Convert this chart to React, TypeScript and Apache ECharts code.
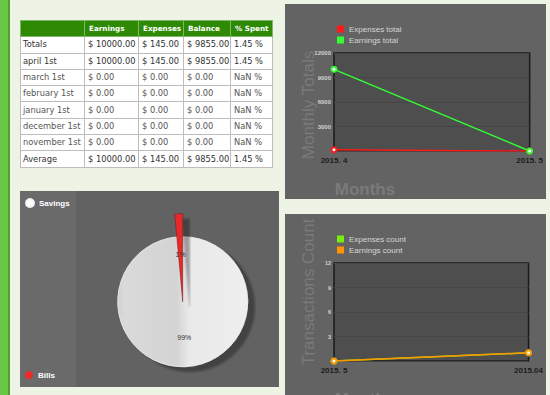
import React, { useEffect, useRef } from 'react';
import * as echarts from 'echarts';

// ---------- data ----------
const tableHeaders = ['', 'Earnings', 'Expenses', 'Balance', '% Spent'];
const tableRowNames = ['Totals', 'april 1st', 'march 1st', 'february 1st', 'january 1st', 'december 1st', 'november 1st', 'Average'];
const tableEarnings = ['$ 10000.00', '$ 10000.00', '$ 0.00', '$ 0.00', '$ 0.00', '$ 0.00', '$ 0.00', '$ 10000.00'];
const tableExpenses = ['$ 145.00', '$ 145.00', '$ 0.00', '$ 0.00', '$ 0.00', '$ 0.00', '$ 0.00', '$ 145.00'];
const tableBalance = ['$ 9855.00', '$ 9855.00', '$ 0.00', '$ 0.00', '$ 0.00', '$ 0.00', '$ 0.00', '$ 9855.00'];
const tableSpent = ['1.45 %', '1.45 %', 'NaN %', 'NaN %', 'NaN %', 'NaN %', 'NaN %', '1.45 %'];

const totalsMonths = ['2015. 4', '2015. 5'];
const expensesTotal = [145, 0];
const earningsTotal = [10000, 0];

const countMonths = ['2015. 5', '2015.04'];
const expensesCount = [0, 1];
const earningsCount = [0, 1];

const pieNames = ['Savings', 'Bills'];
const pieValues = [9855, 145];

// ---------- helpers ----------
function Chart({ option, style }: { option: any; style: React.CSSProperties }) {
  const ref = useRef<HTMLDivElement>(null);
  useEffect(() => {
    const c = echarts.init(ref.current!, null, { renderer: 'svg' });
    c.setOption(option);
    return () => c.dispose();
  }, []);
  return <div ref={ref} style={style} />;
}

const FONT = '"Liberation Sans", Arial, sans-serif';

function lineOption(
  cats: string[],
  series: { name: string; data: number[]; color: string }[],
  yMax: number,
  yInterval: number,
  yLabelSize: number,
  yTitle: string,
  yTitleY: number
) {
  return {
    animation: false,
    backgroundColor: '#636363',
    textStyle: { fontFamily: FONT },
    legend: {
      orient: 'vertical',
      left: 52,
      top: 21,
      padding: 0,
      itemWidth: 7,
      itemHeight: 7,
      itemGap: 3,
      icon: 'rect',
      textStyle: { color: '#d6d6d6', fontSize: 8, fontFamily: FONT },
      data: series.map((s) => ({ name: s.name, itemStyle: { color: s.color } })),
    },
    grid: {
      left: 49,
      right: 15,
      top: 49,
      height: 98,
      show: true,
      backgroundColor: '#4e4e4e',
      borderColor: '#1a1a1a',
      borderWidth: 1.5,
    },
    xAxis: {
      type: 'category',
      data: cats,
      boundaryGap: false,
      axisLine: { show: false },
      axisTick: { show: false },
      axisLabel: { color: '#1c1c1c', fontWeight: 'bold', fontSize: 8, margin: 5, fontFamily: FONT },
      splitLine: { show: false },
    },
    yAxis: {
      type: 'value',
      min: 0,
      max: yMax,
      interval: yInterval,
      axisLine: { show: false },
      axisTick: { show: false },
      axisLabel: {
        color: '#d2d2d2',
        fontWeight: 'bold',
        fontSize: yLabelSize,
        margin: 3,
        showMinLabel: false,
        fontFamily: FONT,
        formatter: (v: number) => String(v),
      },
      splitLine: { lineStyle: { color: '#464646', width: 1 } },
    },
    graphic: [
      {
        type: 'text',
        x: 23,
        y: yTitleY,
        rotation: Math.PI / 2,
        style: {
          text: yTitle,
          fill: '#7a7a7a',
          font: '17px "Liberation Sans", Arial, sans-serif',
          textAlign: 'center',
          textVerticalAlign: 'middle',
        },
      },
      {
        type: 'text',
        x: 80,
        y: 185,
        style: {
          text: 'Months',
          fill: '#7a7a7a',
          font: 'bold 17px "Liberation Sans", Arial, sans-serif',
          textAlign: 'center',
          textVerticalAlign: 'middle',
        },
      },
    ],
    series: series.map((s) => ({
      type: 'line',
      name: s.name,
      data: s.data,
      color: s.color,
      symbol: 'emptyCircle',
      symbolSize: 5,
      lineStyle: { width: 1.5, color: s.color },
      itemStyle: { color: s.color, borderWidth: 1.5 },
    })),
  };
}

const totalsOption = lineOption(
  totalsMonths,
  [
    { name: 'Expenses total', data: expensesTotal, color: '#ff1a1a' },
    { name: 'Earnings total', data: earningsTotal, color: '#33ff33' },
  ],
  12000,
  3000,
  6,
  'Monthly Totals',
  101
);

const countOption = lineOption(
  countMonths,
  [
    { name: 'Expenses count', data: expensesCount, color: '#77ee11' },
    { name: 'Earnings count', data: earningsCount, color: '#ff9500' },
  ],
  12,
  3,
  5.5,
  'Transactions Count',
  78
);

const pieColors = [
  new echarts.graphic.LinearGradient(0, 0, 1, 0, [
    { offset: 0, color: '#d0d0d0' },
    { offset: 0.05, color: '#dadada' },
    { offset: 0.45, color: '#d3d3d3' },
    { offset: 0.55, color: '#e9e9e9' },
    { offset: 1, color: '#eeeeee' },
  ]),
  '#e52b2b',
];
const shadow = { shadowColor: 'rgba(0,0,0,0.32)', shadowBlur: 2, shadowOffsetX: 7, shadowOffsetY: 5 };
const hidden = { color: 'rgba(0,0,0,0)' };

const pieLegendText = { color: '#ffffff', fontWeight: 'bold', fontSize: 8, fontFamily: FONT };

const pieOption = {
  animation: false,
  backgroundColor: '#626262',
  textStyle: { fontFamily: FONT },
  graphic: [{ type: 'rect', shape: { x: 0, y: 0, width: 56, height: 196 }, style: { fill: '#6a6a6a' } }],
  legend: [
    {
      data: [{ name: pieNames[0], itemStyle: { color: '#ffffff' } }],
      left: 5,
      top: 7,
      padding: 0,
      icon: 'circle',
      itemWidth: 8,
      itemHeight: 8,
      textStyle: pieLegendText,
    },
    {
      data: [{ name: pieNames[1], itemStyle: { color: '#ee2b2b' } }],
      left: 5,
      top: 180,
      padding: 0,
      icon: 'circle',
      itemWidth: 8,
      itemHeight: 8,
      textStyle: pieLegendText,
    },
  ],
  series: [
    {
      type: 'pie',
      center: [162.7, 110.7],
      radius: 65,
      startAngle: 90,
      clockwise: true,
      percentPrecision: 0,
      labelLine: { show: false },
      data: pieNames.map((n, i) =>
        i === 0
          ? {
              name: n,
              value: pieValues[i],
              itemStyle: { color: pieColors[0], borderColor: '#f4f4f4', borderWidth: 0.8, ...shadow },
              label: { show: true, position: 'inside', formatter: '{d}%', color: '#333', fontSize: 7, padding: [6, 0, 0, 0] },
            }
          : { name: n, value: pieValues[i], itemStyle: { ...hidden, borderWidth: 0 }, label: { show: false } }
      ),
    },
    {
      type: 'pie',
      center: [162.7, 110.7],
      radius: 88,
      startAngle: 90,
      clockwise: true,
      percentPrecision: 0,
      labelLine: { show: false },
      data: pieNames.map((n, i) =>
        i === 1
          ? {
              name: n,
              value: pieValues[i],
              itemStyle: { color: pieColors[1], borderColor: '#7a1515', borderWidth: 0.5, ...shadow },
              label: { show: true, position: 'inside', formatter: '{d}%', color: '#333', fontSize: 7, padding: [0, 0, 44, 0] },
            }
          : { name: n, value: pieValues[i], itemStyle: { ...hidden, borderWidth: 0 }, label: { show: false }, silent: true }
      ),
    },
  ],
};

// ---------- table ----------
const colWidths = [64, 54, 45, 47, 42];

function DataTable() {
  const rows = tableRowNames.map((n, i) => [n, tableEarnings[i], tableExpenses[i], tableBalance[i], tableSpent[i]]);
  const cell: React.CSSProperties = {
    border: '1px solid #bdbdbd',
    padding: '0 0 0 2px',
    height: 15.3,
    whiteSpace: 'nowrap',
    overflow: 'hidden',
    fontSize: 8.3,
    fontFamily: '"DejaVu Sans", Verdana, sans-serif',
    lineHeight: '15px',
  };
  return (
    <table
      style={{
        position: 'absolute',
        left: 20,
        top: 20,
        width: 252,
        borderCollapse: 'collapse',
        tableLayout: 'fixed',
        background: '#ffffff',
      }}
    >
      <colgroup>
        {colWidths.map((w, i) => (
          <col key={i} style={{ width: w }} />
        ))}
      </colgroup>
      <thead>
        <tr>
          {tableHeaders.map((h, i) => (
            <th
              key={i}
              style={{
                ...cell,
                background: '#2e8a05',
                color: '#ffffff',
                fontWeight: 'bold',
                fontSize: 7.2,
                textAlign: 'left',
                padding: '0 0 0 4px',
                border: '1px solid #7fb86a',
              }}
            >
              {h}
            </th>
          ))}
        </tr>
      </thead>
      <tbody>
        {rows.map((r, ri) => (
          <tr key={ri}>
            {r.map((v, ci) => (
              <td
                key={ci}
                style={{
                  ...cell,
                  color: tableEarnings[ri] === '$ 0.00' ? '#555555' : '#333333',
                  paddingLeft: ci === 0 ? 2 : 3,
                }}
              >
                {v}
              </td>
            ))}
          </tr>
        ))}
      </tbody>
    </table>
  );
}

export default function App() {
  return (
    <div
      style={{
        position: 'fixed',
        left: 0,
        top: 0,
        width: 550,
        height: 395,
        overflow: 'hidden',
        background: '#edf3e5',
      }}
    >
      <div
        style={{
          position: 'absolute',
          left: 0,
          top: 0,
          width: 8,
          height: 395,
          background: '#68c846',
          borderRight: '2px solid #4f9f35',
        }}
      />
      <DataTable />
      <Chart option={totalsOption} style={{ position: 'absolute', left: 285, top: 4, width: 261, height: 195 }} />
      <Chart option={countOption} style={{ position: 'absolute', left: 285, top: 214, width: 261, height: 195 }} />
      <Chart option={pieOption} style={{ position: 'absolute', left: 20, top: 191, width: 259, height: 196 }} />
    </div>
  );
}
